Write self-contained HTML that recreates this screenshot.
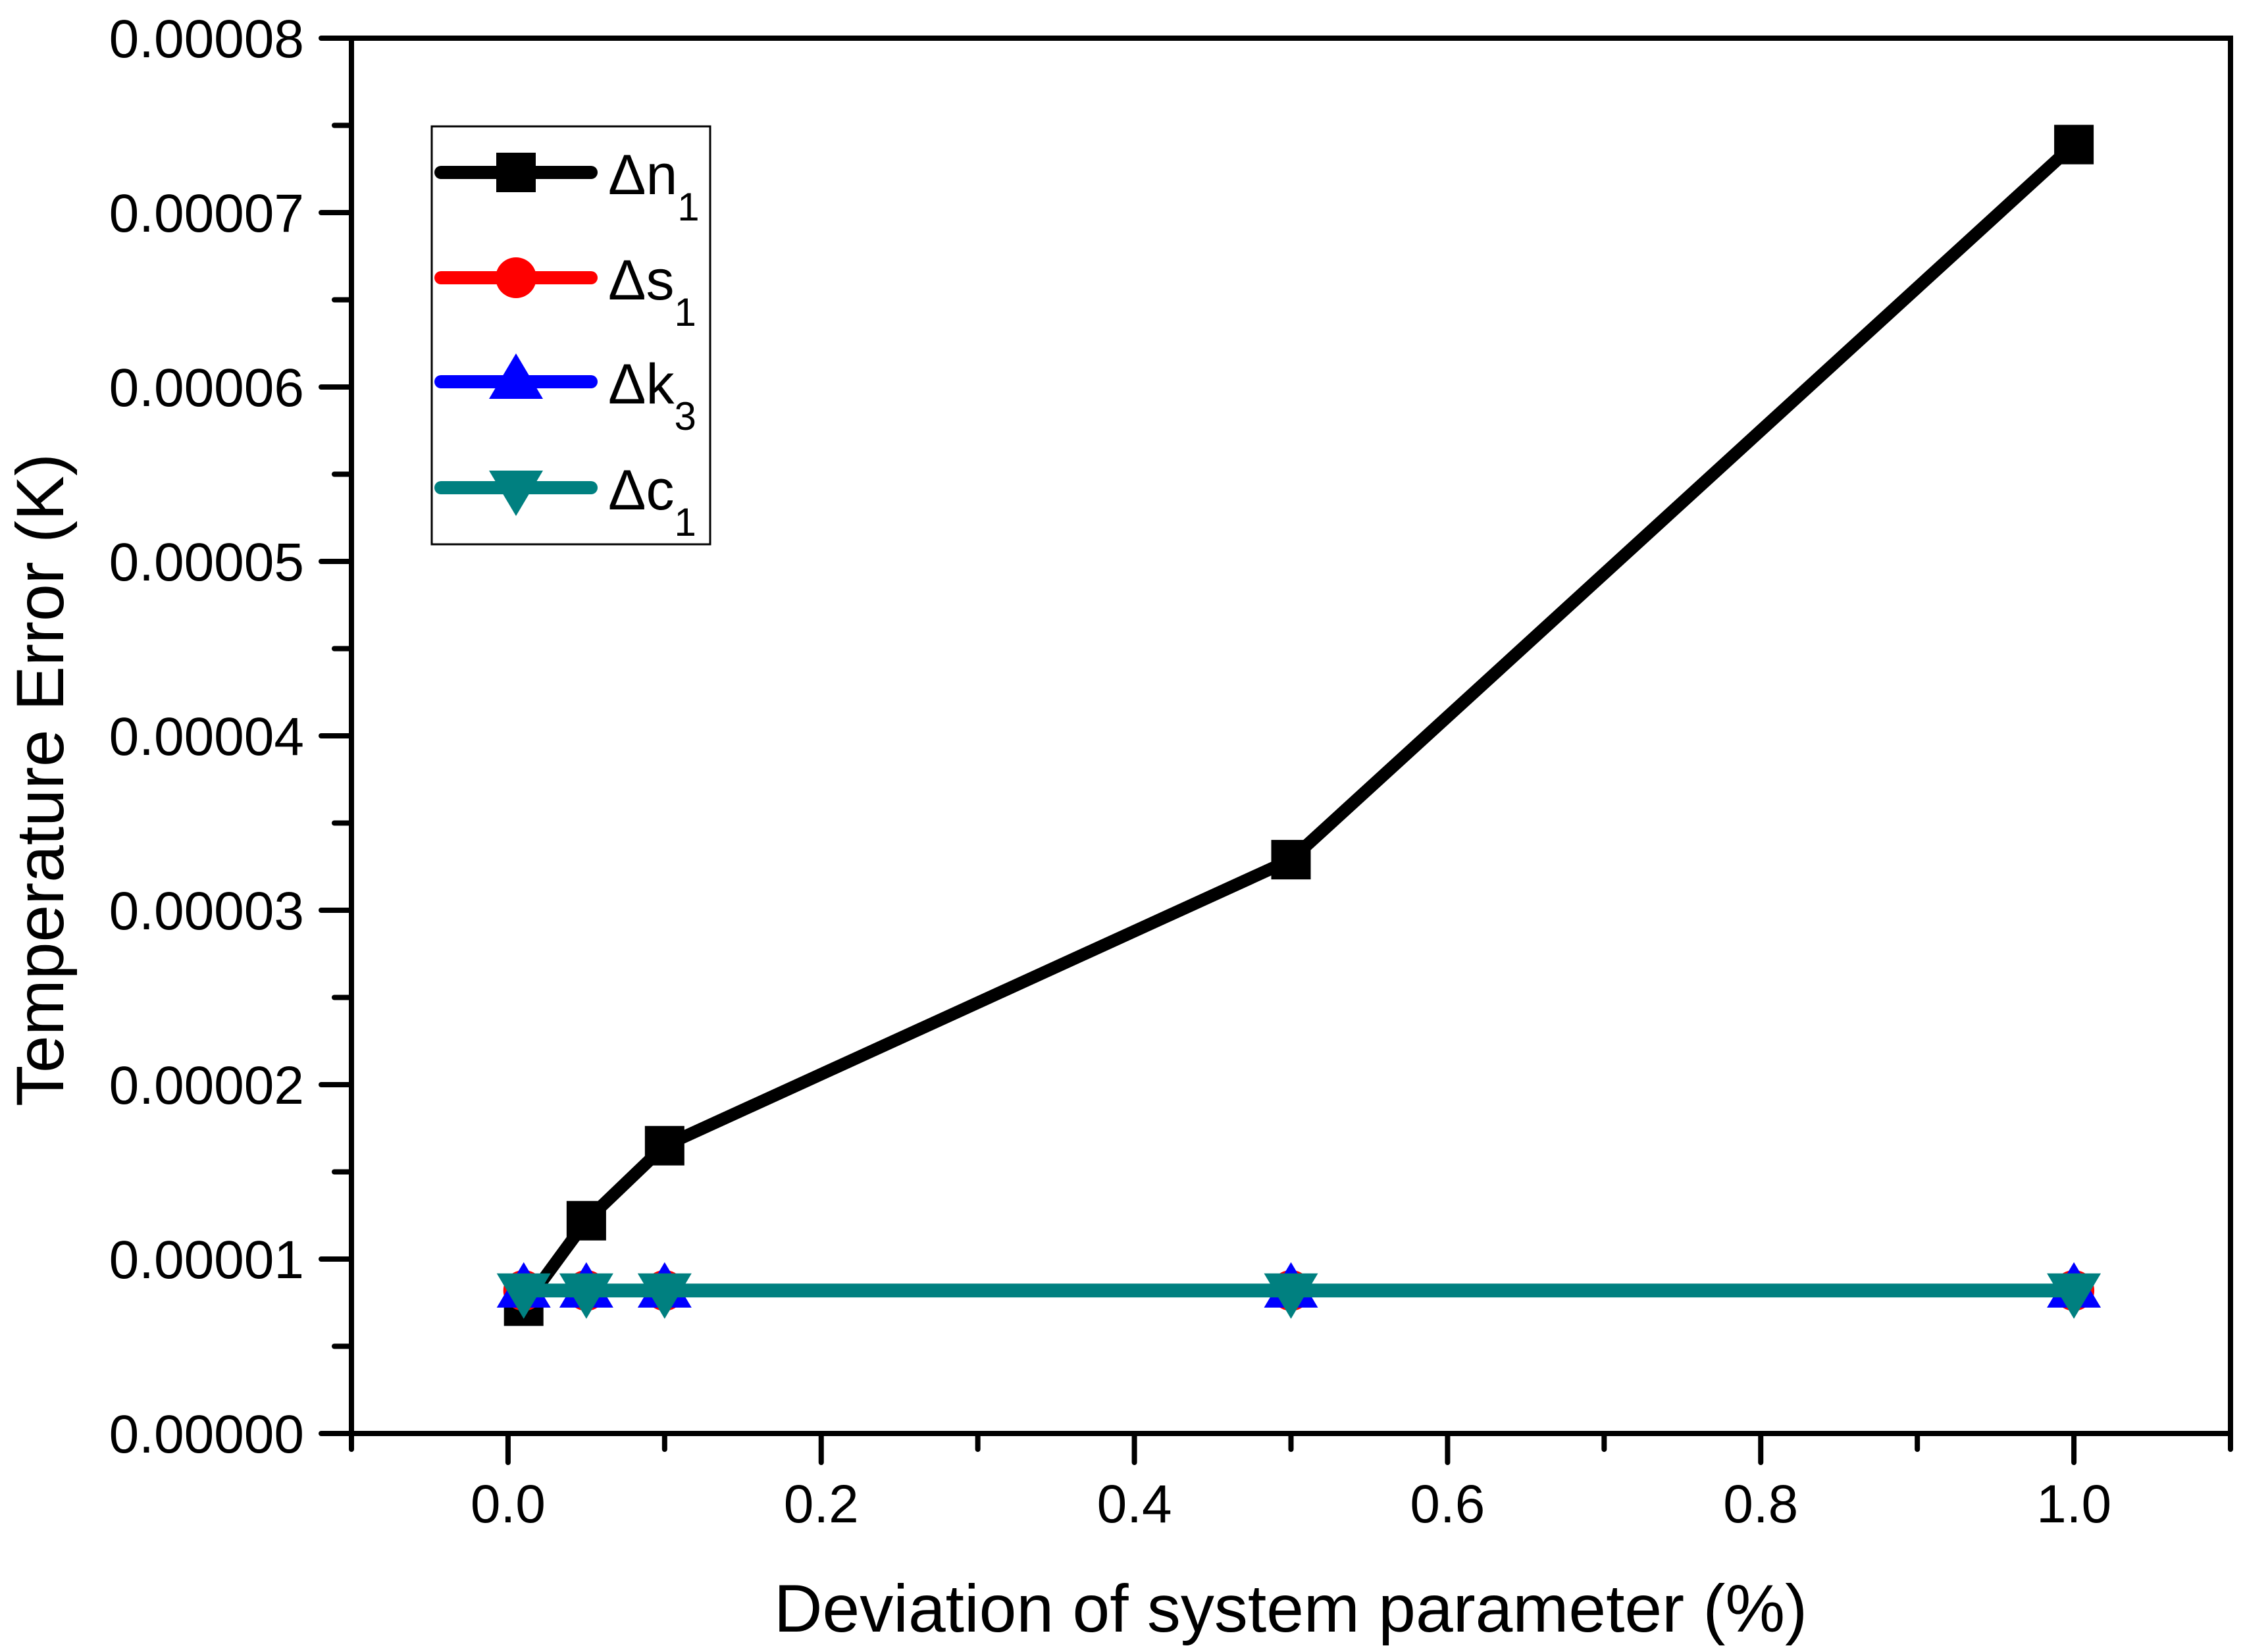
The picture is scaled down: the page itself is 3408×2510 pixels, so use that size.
<!DOCTYPE html>
<html><head><meta charset="utf-8"><style>
html,body{margin:0;padding:0;background:#fff;}
svg{display:block;font-family:"Liberation Sans",Arial,sans-serif;}
</style></head><body>
<svg id="chart" width="3408" height="2510" viewBox="0 0 3408 2510">
<g id="axes"></g>
<g id="series"></g>
<g id="legend"></g>
</svg>
<script>
const xValues = [0.01, 0.05, 0.1, 0.5, 1.0];
const n1Values = [0.73e-5, 1.22e-5, 1.65e-5, 3.29e-5, 7.39e-5];
const s1Values = [0.82e-5, 0.82e-5, 0.82e-5, 0.82e-5, 0.82e-5];
const k3Values = [0.82e-5, 0.82e-5, 0.82e-5, 0.82e-5, 0.82e-5];
const c1Values = [0.82e-5, 0.82e-5, 0.82e-5, 0.82e-5, 0.82e-5];
const xTickLabels = ["0.0","0.2","0.4","0.6","0.8","1.0"];
const yTickLabels = ["0.00000","0.00001","0.00002","0.00003","0.00004","0.00005","0.00006","0.00007","0.00008"];

const NS="http://www.w3.org/2000/svg";
const L=534,R=3389,T=58,B=2178;
const xMin=-0.1,xMax=1.1,yMin=0,yMax=8e-5;
function sx(v){return L+(v-xMin)/(xMax-xMin)*(R-L);}
function sy(v){return B-(v-yMin)/(yMax-yMin)*(B-T);}
function mk(tag,attrs,parent){const e=document.createElementNS(NS,tag);for(const k in attrs)e.setAttribute(k,attrs[k]);parent.appendChild(e);return e;}
const axes=document.getElementById('axes'),series=document.getElementById('series'),legend=document.getElementById('legend');

let fr=mk('rect',{x:L,y:T,width:R-L,height:B-T,fill:'none',stroke:'#000','stroke-width':8},axes);



for(let i=0;i<=16;i++){
  const v=i*0.5e-5,y=sy(v),major=i%2===0;
  const t=mk('line',{x1:major?L-46:L-26,x2:L,y1:y,y2:y,stroke:'#000','stroke-width':8,'stroke-linecap':'round'},axes);
  
  
  if(major){
    const tx=mk('text',{x:462,y:y+29,'font-size':82,'text-anchor':'end'},axes);
    tx.textContent=yTickLabels[i/2];
    
    
  }
}
for(let i=-1;i<=11;i++){
  const v=i*0.1,x=sx(v),major=(i%2===0);
  const t=mk('line',{x1:x,x2:x,y1:B,y2:major?B+44:B+24,stroke:'#000','stroke-width':8,'stroke-linecap':'round'},axes);
  
  
  if(major&&i>=0&&i<=10){
    const tx=mk('text',{x:x,y:2313,'font-size':82,'text-anchor':'middle'},axes);
    tx.textContent=xTickLabels[i/2];
    
    
  }
}
let xt=mk('text',{x:1961,y:2479,'font-size':102,'text-anchor':'middle'},axes);
xt.textContent='Deviation of system parameter (%)';


let yt=mk('text',{x:0,y:0,'font-size':102,'text-anchor':'middle',transform:'translate(96,1185) rotate(-90)'},axes);
yt.textContent='Temperature Error (K)';



function marker(kind,x,y,color,parent){
  let e;
  if(kind==='square')e=mk('rect',{x:x-30,y:y-30,width:60,height:60,fill:color},parent);
  else if(kind==='circle')e=mk('circle',{cx:x,cy:y,r:31,fill:color},parent);
  else if(kind==='up')e=mk('polygon',{points:`${x},${y-43} ${x-41},${y+26} ${x+41},${y+26}`,fill:color},parent);
  else e=mk('polygon',{points:`${x},${y+43} ${x-41},${y-26} ${x+41},${y-26}`,fill:color},parent);
  return e;
}
const defs=[
  {name:'n1',vals:n1Values,color:'#000000',kind:'square',w:19,sub:'1',base:'n'},
  {name:'s1',vals:s1Values,color:'#ff0000',kind:'circle',w:19,sub:'1',base:'s'},
  {name:'k3',vals:k3Values,color:'#0000ff',kind:'up',w:19,sub:'3',base:'k'},
  {name:'c1',vals:c1Values,color:'#008080',kind:'down',w:21,sub:'1',base:'c'}
];
defs.forEach(d=>{
  const g=mk('g',{},series);
  
  
  const pts=xValues.map((x,i)=>sx(x)+','+sy(d.vals[i])).join(' ');
  const pl=mk('polyline',{points:pts,fill:'none',stroke:d.color,'stroke-width':d.w,'stroke-linejoin':'round'},g);
  
  
  xValues.forEach((x,i)=>{
    const m=marker(d.kind,sx(x),sy(d.vals[i]),d.color,g);
    
    
  });
});

let lb=mk('rect',{x:656,y:192,width:423,height:635,fill:'#fff',stroke:'#000','stroke-width':3},legend);


const ly=[262,422,580,741];
defs.forEach((d,i)=>{
  const g=mk('g',{},legend);
  
  
  mk('line',{x1:670,x2:898,y1:ly[i],y2:ly[i],stroke:d.color,'stroke-width':20,'stroke-linecap':'round'},g);
  marker(d.kind,784,ly[i],d.color,g);
  const t=mk('text',{x:924,y:ly[i]+33,'font-size':86},g);
  t.textContent='\u0394'+d.base;
  const s=mk('tspan',{dy:40,'font-size':60},t);
  s.textContent=d.sub;
});
</script>
</body></html>
